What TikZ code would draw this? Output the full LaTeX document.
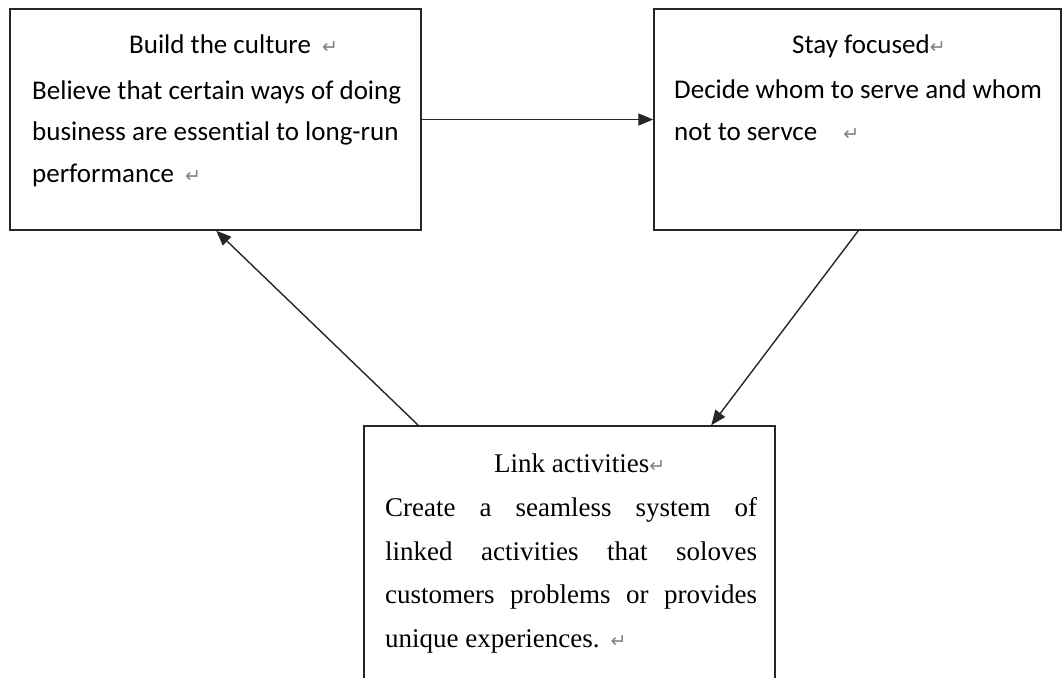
\documentclass[tikz,border=0pt]{standalone}
\usepackage{fontspec}
\usetikzlibrary{arrows.meta}
\newfontfamily\calfont[Ligatures=NoCommon]{Carlito}
\newfontfamily\tmsfont[Ligatures=NoCommon]{Liberation Serif}
\newfontfamily\dvfont{DejaVu Sans}
\newcommand{\ret}{{\dvfont\fontsize{19}{19}\selectfont\color{gray}↵}}
\tikzset{
  box/.style={draw=black!85, line width=1.5pt, fill=none, inner sep=0pt},
  cal/.style={font=\calfont\fontsize{27}{30}\selectfont, inner sep=0pt, anchor=base west},
  tms/.style={font=\tmsfont\fontsize{27}{30}\selectfont, inner sep=0pt, anchor=base west},
  arr/.style={draw=black!85, line width=1.4pt, -{Triangle[length=15pt,width=12pt]}}
}
\begin{document}
\begin{tikzpicture}[x=1pt,y=-1pt]
\useasboundingbox (0,0) rectangle (1062,677);
\clip (0,0) rectangle (1062,677);
% boxes
\node[box, minimum width=411pt, minimum height=221pt] (b1) at (215.5,119.5) {};
\node[box, minimum width=407pt, minimum height=221pt] (b2) at (857.5,119.5) {};
\node[box, minimum width=411pt, minimum height=300pt] (b3) at (569.5,576) {};
% box 1 text
\node[cal] (t1) at (129,54) {Build the culture\hspace{11pt}\ret};
\node[cal] (t1a) at (32,99) {Believe that certain ways of doing};
\node[cal] (t1b) at (32,140) {business are essential to long-run};
\node[cal] (t1c) at (32,182) {performance\hspace{11pt}\ret};
% box 2 text
\node[cal] (t2) at (792,53) {Stay focused\ret};
\node[cal] (t2a) at (674,98) {Decide whom to serve and whom};
\node[cal] (t2b) at (674,140) {not to servce\hspace{26pt}\ret};
% box 3 text
\node[tms] (t3) at (494,472) {Link activities\ret};
\node[tms] (t3a) at (385,516) {\makebox[372pt][s]{Create a seamless system of}};
\node[tms] (t3b) at (385,560) {\makebox[372pt][s]{linked activities that soloves}};
\node[tms] (t3c) at (385,603) {\makebox[372pt][s]{customers problems or provides}};
\node[tms] (t3d) at (385,647) {unique experiences.\hspace{11pt}\ret};
% connectors
\draw[arr] (b1.east) -- (b2.west);
\draw[arr] ([xshift=205pt]b2.south west) -- ([xshift=348pt]b3.north west);
\draw[arr] ([xshift=55pt]b3.north west) -- ([xshift=207pt]b1.south west);
\end{tikzpicture}
\end{document}
